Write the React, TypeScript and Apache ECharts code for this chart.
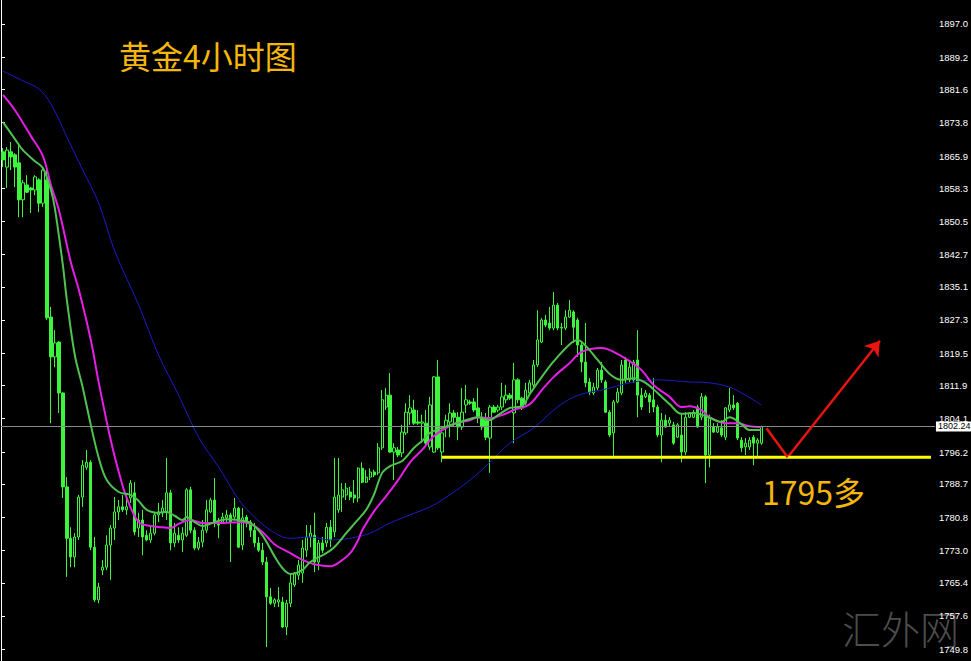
import React, { useEffect, useRef } from 'react';
import * as echarts from 'echarts';

// ---- data ----
// 234 bar slots on the time axis; 191 candles are drawn, the rest is the chart shift
const categories: string[] = Array.from({ length: 234 }, (_, i) => `K${i + 1}`);

// [open, close, low, high]
const candles: number[][] = [
  [1866.9, 1865.0, 1863.3, 1867.8], [1863.3, 1867.3, 1858.4, 1868.0], [1866.9, 1865.7, 1862.6, 1869.2],
  [1866.2, 1863.3, 1858.6, 1866.6], [1864.3, 1855.6, 1851.5, 1869.0], [1855.6, 1859.6, 1851.5, 1860.3],
  [1859.1, 1857.4, 1857.2, 1861.4], [1858.4, 1857.9, 1852.5, 1858.6], [1857.9, 1861.0, 1856.7, 1861.4],
  [1860.3, 1854.8, 1852.7, 1860.7], [1854.8, 1862.6, 1853.9, 1863.3], [1860.3, 1827.8, 1827.3, 1862.6],
  [1828.0, 1818.6, 1803.0, 1830.4], [1818.6, 1821.9, 1816.2, 1824.9], [1822.1, 1810.1, 1805.4, 1822.3],
  [1810.1, 1788.0, 1785.4, 1810.3], [1788.0, 1775.9, 1766.8, 1790.3], [1775.9, 1771.5, 1769.1, 1778.5],
  [1771.5, 1776.2, 1769.1, 1777.1], [1776.2, 1785.6, 1775.5, 1786.1], [1785.6, 1793.1, 1783.3, 1794.3],
  [1792.6, 1793.8, 1792.0, 1796.7], [1793.8, 1773.8, 1773.1, 1794.3], [1773.8, 1761.4, 1760.9, 1776.2],
  [1761.4, 1764.4, 1760.6, 1765.4], [1768.4, 1769.1, 1767.2, 1770.8], [1769.1, 1774.3, 1768.4, 1776.6],
  [1774.3, 1778.3, 1766.1, 1779.0], [1778.3, 1782.1, 1775.5, 1785.6], [1782.1, 1783.3, 1780.2, 1784.9],
  [1783.3, 1782.6, 1782.1, 1786.1], [1782.6, 1783.3, 1781.4, 1786.1], [1785.4, 1788.9, 1784.2, 1789.6],
  [1786.6, 1777.4, 1776.6, 1789.1], [1778.3, 1780.2, 1776.2, 1781.9], [1780.2, 1776.2, 1771.9, 1782.6],
  [1776.6, 1775.5, 1775.2, 1777.8], [1775.5, 1777.1, 1774.8, 1779.0], [1777.1, 1781.4, 1776.6, 1782.1],
  [1781.4, 1782.1, 1779.7, 1784.2], [1781.9, 1783.0, 1780.9, 1784.9], [1782.1, 1786.6, 1780.2, 1794.8],
  [1786.6, 1774.8, 1773.1, 1787.3], [1774.8, 1777.1, 1773.8, 1779.5], [1776.6, 1775.5, 1774.8, 1778.5],
  [1775.5, 1777.1, 1772.7, 1778.5], [1776.6, 1787.3, 1776.2, 1787.7], [1787.3, 1777.8, 1777.1, 1788.0],
  [1777.8, 1773.6, 1773.1, 1778.5], [1773.6, 1775.0, 1773.1, 1776.2], [1775.0, 1777.8, 1773.8, 1780.2],
  [1777.8, 1782.6, 1777.1, 1784.9], [1782.1, 1784.9, 1781.9, 1785.4], [1784.9, 1779.5, 1778.5, 1790.1],
  [1779.7, 1779.0, 1775.9, 1780.7], [1779.7, 1780.9, 1779.5, 1781.9], [1780.7, 1781.4, 1779.7, 1782.6],
  [1781.4, 1779.7, 1770.3, 1781.9], [1780.9, 1783.0, 1780.2, 1785.4], [1783.0, 1773.8, 1773.6, 1783.3],
  [1774.3, 1780.7, 1773.1, 1783.0], [1780.9, 1779.5, 1778.5, 1781.4], [1779.7, 1777.8, 1776.2, 1780.2],
  [1777.8, 1774.8, 1773.8, 1779.5], [1774.8, 1773.1, 1772.7, 1776.2], [1773.1, 1770.3, 1769.6, 1774.8],
  [1770.3, 1762.1, 1750.3, 1771.5], [1762.1, 1760.6, 1760.2, 1764.2], [1760.6, 1761.4, 1759.7, 1761.8],
  [1760.9, 1761.4, 1759.7, 1764.4], [1760.9, 1755.0, 1754.8, 1762.1], [1755.0, 1760.6, 1753.1, 1761.4],
  [1760.6, 1765.4, 1759.7, 1767.7], [1764.9, 1767.7, 1764.4, 1767.9], [1767.2, 1769.6, 1766.1, 1770.8],
  [1767.7, 1773.6, 1765.4, 1775.5], [1773.1, 1776.2, 1771.5, 1779.0], [1776.2, 1777.1, 1773.8, 1779.0],
  [1776.6, 1770.3, 1767.9, 1781.9], [1770.3, 1774.8, 1768.4, 1775.5], [1774.8, 1773.1, 1772.4, 1776.2],
  [1774.8, 1778.5, 1773.8, 1779.5], [1778.5, 1775.5, 1773.8, 1780.2], [1777.4, 1785.6, 1776.2, 1794.8],
  [1782.6, 1786.1, 1781.9, 1794.8], [1785.6, 1787.3, 1782.1, 1788.9], [1786.1, 1787.7, 1784.9, 1788.9],
  [1786.8, 1785.6, 1784.9, 1788.0], [1786.1, 1785.4, 1784.2, 1789.6], [1785.4, 1792.4, 1784.4, 1792.6],
  [1792.4, 1789.1, 1788.9, 1793.8], [1789.1, 1790.3, 1788.9, 1792.0], [1790.3, 1791.5, 1789.6, 1792.4],
  [1791.5, 1790.8, 1790.3, 1792.0], [1791.3, 1797.2, 1790.8, 1798.3], [1797.2, 1808.5, 1796.7, 1810.8],
  [1806.8, 1809.6, 1806.1, 1811.3], [1809.6, 1796.2, 1796.0, 1814.8], [1796.2, 1797.2, 1789.6, 1798.3],
  [1796.7, 1795.5, 1795.0, 1797.4], [1796.0, 1800.9, 1795.0, 1802.6], [1800.7, 1805.6, 1800.2, 1807.7],
  [1805.4, 1806.6, 1802.6, 1809.6], [1806.1, 1803.0, 1802.6, 1808.5], [1803.3, 1803.0, 1802.6, 1806.1],
  [1803.0, 1803.3, 1798.3, 1805.0], [1803.0, 1798.3, 1797.4, 1806.1], [1797.4, 1807.3, 1796.7, 1809.2],
  [1796.2, 1813.9, 1796.0, 1814.1], [1813.9, 1797.2, 1796.7, 1817.9], [1796.2, 1800.7, 1793.8, 1800.9],
  [1802.1, 1803.7, 1799.7, 1805.0], [1803.3, 1805.4, 1799.7, 1807.7], [1805.4, 1804.4, 1802.1, 1806.1],
  [1804.4, 1802.1, 1799.0, 1805.6], [1802.1, 1805.6, 1801.4, 1811.3], [1807.3, 1808.5, 1805.4, 1812.0],
  [1808.0, 1807.7, 1807.3, 1808.5], [1808.0, 1806.1, 1805.6, 1808.9], [1806.6, 1804.4, 1803.0, 1811.3],
  [1804.4, 1802.1, 1801.4, 1805.6], [1803.7, 1799.7, 1799.0, 1805.4], [1799.5, 1806.8, 1791.3, 1807.3],
  [1806.8, 1805.6, 1805.4, 1807.3], [1806.1, 1806.8, 1805.6, 1807.3], [1806.8, 1809.2, 1806.1, 1812.5],
  [1808.5, 1809.6, 1807.7, 1812.0], [1809.6, 1808.9, 1808.5, 1810.1], [1805.4, 1813.2, 1798.3, 1817.2],
  [1813.2, 1808.5, 1807.7, 1813.6], [1808.9, 1806.6, 1806.1, 1809.2], [1807.7, 1810.8, 1807.3, 1812.5],
  [1810.1, 1812.5, 1809.6, 1813.2], [1812.0, 1816.7, 1811.5, 1817.9], [1816.7, 1822.6, 1816.2, 1829.6],
  [1822.1, 1827.3, 1821.9, 1827.8], [1827.3, 1826.1, 1825.6, 1828.5], [1826.6, 1825.4, 1824.9, 1830.4],
  [1825.4, 1830.8, 1824.9, 1833.9], [1830.8, 1825.4, 1824.9, 1831.3], [1825.4, 1825.6, 1821.4, 1826.6],
  [1825.4, 1828.0, 1824.9, 1829.6], [1828.0, 1829.6, 1827.8, 1832.0], [1829.2, 1825.6, 1821.9, 1829.6],
  [1827.3, 1821.4, 1818.6, 1827.8], [1821.4, 1817.4, 1815.0, 1822.1], [1817.4, 1812.5, 1811.5, 1826.6],
  [1812.7, 1810.3, 1809.6, 1813.6], [1810.1, 1811.5, 1809.6, 1812.5], [1811.3, 1815.5, 1810.8, 1816.0],
  [1815.5, 1813.2, 1812.5, 1817.4], [1812.7, 1805.6, 1805.4, 1813.2], [1805.6, 1800.2, 1799.7, 1806.1],
  [1800.7, 1808.0, 1795.0, 1808.5], [1808.0, 1810.3, 1807.7, 1811.3], [1810.1, 1816.7, 1809.6, 1817.9],
  [1817.9, 1813.2, 1812.5, 1818.6], [1813.2, 1816.2, 1812.7, 1817.4], [1813.2, 1817.4, 1812.5, 1817.9],
  [1817.9, 1809.6, 1804.4, 1824.9], [1809.6, 1806.8, 1806.1, 1811.3], [1809.2, 1810.1, 1808.9, 1810.8],
  [1809.6, 1808.0, 1805.4, 1810.1], [1808.5, 1806.8, 1805.6, 1813.6], [1806.8, 1800.2, 1799.7, 1807.3],
  [1800.2, 1803.7, 1793.8, 1805.4], [1803.7, 1802.1, 1801.9, 1805.0], [1803.0, 1803.7, 1802.1, 1804.4],
  [1802.6, 1798.3, 1797.9, 1803.3], [1799.7, 1802.6, 1799.5, 1803.0], [1800.2, 1796.2, 1793.8, 1805.4],
  [1796.2, 1804.4, 1795.5, 1805.6], [1804.4, 1805.4, 1804.2, 1805.6], [1804.4, 1805.6, 1804.2, 1806.1],
  [1806.8, 1802.1, 1801.9, 1807.3], [1804.4, 1809.2, 1803.7, 1810.1], [1809.2, 1795.5, 1788.9, 1809.6],
  [1795.5, 1804.2, 1792.6, 1805.0], [1802.1, 1800.9, 1800.7, 1803.0], [1800.9, 1802.1, 1800.7, 1803.0],
  [1801.9, 1800.2, 1799.7, 1803.7], [1799.7, 1806.6, 1799.0, 1806.8], [1806.1, 1807.3, 1805.6, 1811.3],
  [1807.3, 1806.6, 1806.1, 1809.6], [1807.7, 1799.5, 1799.0, 1808.0], [1799.0, 1797.2, 1796.2, 1799.7],
  [1797.4, 1798.3, 1795.5, 1799.5], [1797.4, 1799.0, 1796.7, 1799.7], [1799.7, 1798.3, 1793.1, 1800.2],
  [1798.3, 1799.0, 1795.0, 1799.5], [1798.3, 1802.2, 1797.9, 1802.4],
];

// moving averages, read at [bar index, price]
const maFast: number[][] = [
  [0, 1873.9], [3, 1869.9], [5, 1867.3], [8, 1864.7], [10, 1863.1], [12, 1857.9], [13, 1853.6],
  [15, 1840.2], [16, 1832.0], [18, 1819.0], [20, 1811.3], [22, 1802.6], [24, 1794.8], [26, 1789.6],
  [29, 1786.8], [32, 1786.1], [34, 1784.7], [36, 1782.6], [39, 1781.9], [41, 1782.1], [43, 1781.2],
  [45, 1780.2], [46, 1780.9], [48, 1779.7], [50, 1778.8], [53, 1779.7], [56, 1780.4], [59, 1780.2],
  [62, 1779.5], [65, 1776.6], [68, 1771.7], [70, 1768.9], [72, 1767.5], [75, 1768.4], [77, 1770.3],
  [81, 1772.4], [83, 1773.8], [86, 1777.1], [88, 1779.3], [91, 1782.6], [93, 1786.3], [95, 1791.3],
  [97, 1792.9], [100, 1794.1], [103, 1797.2], [105, 1798.8], [107, 1800.7], [110, 1801.9], [113, 1802.8],
  [117, 1804.0], [119, 1804.4], [122, 1803.7], [124, 1804.9], [127, 1806.6], [130, 1807.0], [132, 1809.9],
  [135, 1813.9], [138, 1817.6], [142, 1821.6], [144, 1822.6], [146, 1821.2], [149, 1817.9], [152, 1814.6],
  [155, 1813.2], [158, 1813.6], [161, 1812.5], [164, 1810.1], [167, 1807.5], [170, 1805.2], [173, 1805.4],
  [176, 1804.7], [180, 1803.3], [182, 1804.4], [185, 1802.8], [187, 1801.4], [190, 1801.4],
];
const maMid: number[][] = [
  [0, 1880.3], [3, 1876.7], [7, 1870.6], [10, 1865.9], [12, 1859.1], [14, 1853.2], [17, 1840.9],
  [19, 1834.4], [22, 1822.6], [24, 1812.5], [27, 1799.0], [29, 1791.5], [31, 1785.4], [34, 1779.7],
  [37, 1778.8], [40, 1778.5], [42, 1778.3], [44, 1779.3], [47, 1780.2], [50, 1779.5], [55, 1779.5],
  [60, 1779.7], [62, 1779.3], [65, 1777.4], [68, 1774.5], [72, 1772.4], [75, 1770.8], [78, 1769.8],
  [82, 1769.3], [84, 1770.1], [87, 1772.4], [89, 1775.5], [90, 1777.8], [93, 1782.3], [96, 1785.8],
  [99, 1789.6], [102, 1793.8], [105, 1796.7], [108, 1800.0], [113, 1802.8], [117, 1803.7], [119, 1804.4],
  [122, 1804.2], [125, 1804.9], [128, 1806.1], [132, 1807.5], [135, 1810.8], [138, 1813.9], [142, 1817.2],
  [145, 1819.8], [150, 1820.7], [153, 1819.8], [157, 1817.6], [160, 1815.5], [163, 1812.0], [167, 1809.2],
  [170, 1806.8], [172, 1807.0], [175, 1806.1], [177, 1804.4], [181, 1803.0], [184, 1803.0], [187, 1802.3],
  [190, 1802.1],
];
const maSlow: number[][] = [
  [0, 1885.9], [5, 1883.6], [9, 1881.7], [12, 1878.2], [16, 1870.4], [20, 1862.6], [24, 1854.8],
  [28, 1843.5], [34, 1830.8], [39, 1819.0], [44, 1809.6], [49, 1799.7], [54, 1792.7], [59, 1785.1],
  [62, 1781.8], [67, 1777.8], [72, 1775.9], [77, 1776.2], [82, 1775.5], [87, 1775.9], [92, 1777.1],
  [97, 1779.5], [102, 1781.4], [107, 1783.3], [110, 1784.9], [117, 1789.6], [122, 1793.8], [127, 1798.3],
  [133, 1801.9], [138, 1806.1], [142, 1808.7], [146, 1810.1], [150, 1810.8], [158, 1812.7], [164, 1813.2],
  [172, 1812.7], [177, 1812.5], [182, 1811.5], [186, 1809.6], [190, 1807.3],
];

// price-scale tick labels on the right
const yTickValues: number[] = [
  1749.8, 1757.6, 1765.4, 1773.0, 1780.8, 1788.7, 1796.2, 1804.1, 1811.9, 1819.5,
  1827.3, 1835.1, 1842.7, 1850.5, 1858.3, 1865.9, 1873.8, 1881.6, 1889.2, 1897.0,
];
const currentPrice = 1802.24;
// annotations in bar-slot units (x) and price (y)
const supportLine: number[][] = [[110.5, 1795.0], [233.0, 1795.0]];
const arrowPath: number[][] = [[191.8, 1801.8], [197.1, 1795.0], [220.2, 1822.4]];
const titleText = '黄金4小时图';
const noteText = '1795多';
const watermarkText = '汇外网';

const CANDLE = '#3df53d';

function buildOption() {
  const maLine = (data: number[][], color: string, width: number, z: number) => ({
    type: 'line',
    xAxisIndex: 0,
    yAxisIndex: 0,
    data,
    symbol: 'none',
    smooth: 0.35,
    silent: true,
    z,
    lineStyle: { color, width },
  });
  return {
    animation: false,
    backgroundColor: '#000000',
    grid: { left: 1, right: 34, top: 0, bottom: 0, containLabel: false },
    xAxis: [
      { type: 'category', data: categories, boundaryGap: true, show: false },
      { type: 'value', min: 0, max: 234, show: false },
    ],
    yAxis: {
      type: 'value',
      position: 'right',
      min: 1747.0,
      max: 1902.65,
      splitLine: { show: false },
      axisLine: { show: true, lineStyle: { color: '#ffffff', width: 1 } },
      axisTick: { show: true, length: 4, lineStyle: { color: '#ffffff' }, customValues: yTickValues },
      axisLabel: {
        show: true,
        customValues: yTickValues,
        color: '#ffffff',
        fontSize: 9.5,
        fontFamily: 'Liberation Sans, Arial, sans-serif',
        margin: 4,
        formatter: (v: number) => v.toFixed(1),
      },
    },
    graphic: [
      {
        type: 'text', left: 119, top: 39, z: 10,
        style: { text: titleText, fill: '#f5b70c', fontSize: 32, fontFamily: '"Noto Sans CJK SC", sans-serif' },
      },
      {
        type: 'text', left: 762, top: 475, z: 10,
        style: { text: noteText, fill: '#f5b70c', fontSize: 32, fontFamily: '"Noto Sans CJK SC", sans-serif' },
      },
      {
        type: 'text', left: 842, top: 607, z: -1,
        style: { text: watermarkText, fill: '#4d4d4d', fontSize: 39, fontFamily: '"Noto Sans CJK SC", sans-serif', fontWeight: 300 },
      },
    ],
    series: [
      {
        type: 'candlestick',
        xAxisIndex: 0,
        yAxisIndex: 0,
        data: candles,
        barWidth: 2.8,
        silent: true,
        z: 2,
        itemStyle: {
          color: '#000000',
          color0: CANDLE,
          borderColor: CANDLE,
          borderColor0: CANDLE,
          borderWidth: 1,
        },
        markLine: {
          silent: true,
          symbol: ['none', 'none'],
          animation: false,
          data: [
            {
              yAxis: currentPrice,
              lineStyle: { color: '#8a8a8a', width: 1, type: 'solid' },
              label: {
                show: true,
                position: 'end',
                distance: 1,
                formatter: currentPrice.toFixed(2),
                color: '#000000',
                backgroundColor: '#ffffff',
                fontSize: 9,
                fontFamily: 'Liberation Sans, Arial, sans-serif',
                padding: [1, 2, 0, 2],
              },
            },
          ],
        },
      },
      maLine(maSlow, '#1c1cc8', 1, 3),
      maLine(maMid, '#e51fe5', 2, 4),
      maLine(maFast, '#4fc24f', 2, 5),
      {
        type: 'line',
        xAxisIndex: 1,
        yAxisIndex: 0,
        data: supportLine,
        symbol: 'none',
        silent: true,
        z: 6,
        lineStyle: { color: '#ffff00', width: 3 },
      },
      {
        type: 'line',
        xAxisIndex: 1,
        yAxisIndex: 0,
        data: arrowPath.slice(0, 2),
        symbol: 'none',
        silent: true,
        z: 7,
        lineStyle: { color: '#e8140f', width: 2.5 },
        markLine: {
          silent: true,
          animation: false,
          symbol: ['none', 'arrow'],
          symbolSize: 14,
          label: { show: false },
          lineStyle: { color: '#e8140f', width: 2.5, type: 'solid' },
          data: [[{ coord: arrowPath[1] }, { coord: arrowPath[2] }]],
        },
      },
    ],
  };
}

export default function App() {
  const ref = useRef<HTMLDivElement>(null);
  useEffect(() => {
    if (!ref.current) return;
    const chart = echarts.init(ref.current, undefined, { renderer: 'svg', width: 971, height: 661 });
    chart.setOption(buildOption() as any);
    return () => chart.dispose();
  }, []);
  return (
    <div
      ref={ref}
      style={{ position: 'fixed', left: 0, top: 0, width: 971, height: 661, background: '#000000' }}
    />
  );
}
